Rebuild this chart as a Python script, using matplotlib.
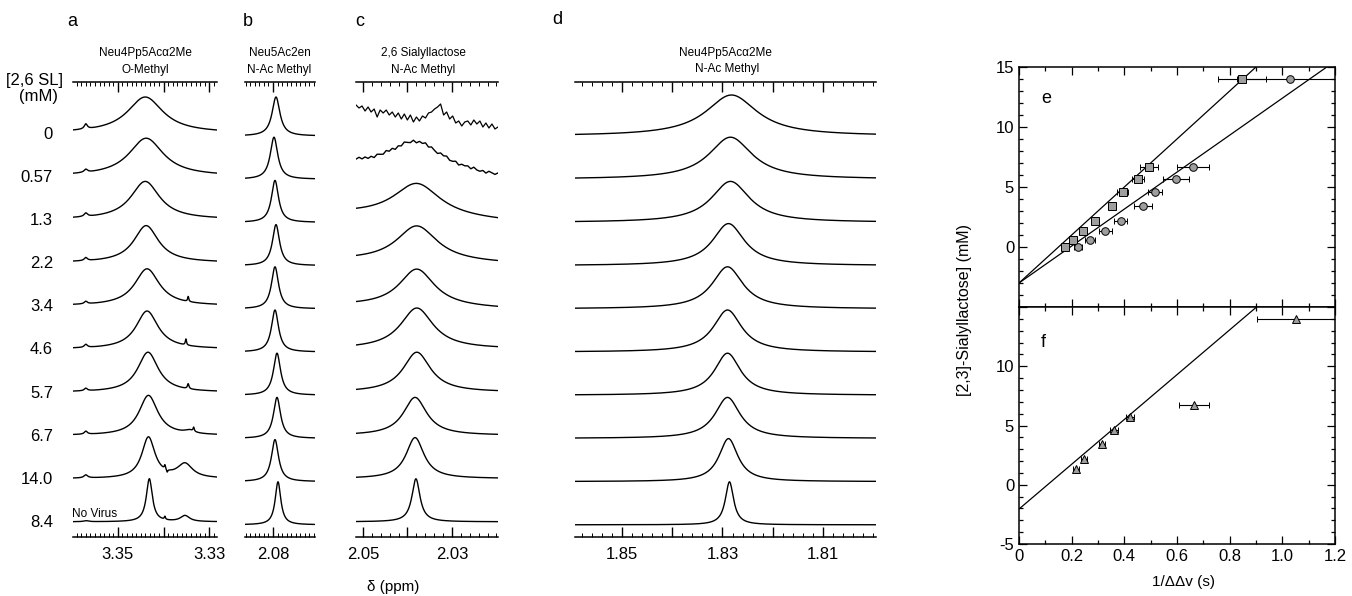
import numpy as np
import matplotlib
matplotlib.use("Agg")
import matplotlib.pyplot as plt
from matplotlib.ticker import MultipleLocator, FixedLocator, FixedFormatter

plt.rcParams['font.family'] = ['Liberation Sans', 'DejaVu Sans']

W, H = 1352, 596

# ------------------------------------------------------------------ data
conc_labels = ["0", "0.57", "1.3", "2.2", "3.4", "4.6", "5.7", "6.7", "14.0", "8.4"]

# panel a: Neu4Pp5Aca2Me O-methyl (ppm, ppm, intensity)
a_center = [3.3440, 3.3438, 3.3440, 3.3438, 3.3436, 3.3436, 3.3434, 3.3433, 3.3433, 3.3431]
a_fwhm = [0.0095, 0.0092, 0.0077, 0.0066, 0.0066, 0.0059, 0.0055, 0.0050, 0.0035, 0.0016]
a_height = [36, 38, 38, 37, 37, 38, 40, 40, 41, 43]
a_extra = [  # (row, centre, fwhm, height)
    (0, 3.3570, 0.0008, 5), (1, 3.3570, 0.0009, 3), (2, 3.3570, 0.0009, 3.5),
    (3, 3.3570, 0.0008, 3), (4, 3.3570, 0.0008, 2.5), (5, 3.3570, 0.0008, 3),
    (6, 3.3570, 0.0008, 2.5), (7, 3.3570, 0.0008, 3), (8, 3.3570, 0.0010, 3),
    (9, 3.3570, 0.0012, 1),
    (4, 3.3346, 0.0003, 5), (5, 3.3351, 0.0003, 6), (6, 3.3346, 0.0004, 5),
    (7, 3.3343, 0.0025, 3), (7, 3.3334, 0.0003, 4),
    (8, 3.3353, 0.0040, 14), (8, 3.3397, 0.0003, 4), (8, 3.3392, 0.0003, -3),
    (9, 3.3353, 0.0024, 6), (9, 3.3397, 0.0003, 3),
]

# panel b: Neu5Ac2en N-Ac methyl
b_center = [2.07934, 2.07978, 2.07956, 2.07934, 2.07956, 2.07956, 2.07912, 2.07912, 2.07956, 2.07890]
b_fwhm = [0.0021, 0.0020, 0.0019, 0.0019, 0.0019, 0.0019, 0.0019, 0.0019, 0.0019, 0.0015]
b_height = [39, 42, 42, 41, 42, 42, 42, 41, 42, 43]

# panel c: 2,6 sialyllactose N-Ac methyl
c_center = [2.0381, 2.0381, 2.0379, 2.0379, 2.0379, 2.0379, 2.0379, 2.0383, 2.0383, 2.0381]
c_fwhm = [0.030, 0.0150, 0.0128, 0.0112, 0.0097, 0.0090, 0.0075, 0.0064, 0.0049, 0.0022]
c_height = [0, 30, 34, 36, 38, 41, 40, 38, 41, 43]
c_tilt = [0, 12, 7, 3, 3, 0, 0, 0, 0, 0]
c_offset = [0, -10, -5, -2, 0, 0, 0, 0, 0, 0]
# first (noisy) trace of panel c, read point by point (page-pixel height)
c_row0_trace = [105, 108, 106, 111, 107, 112, 109, 117, 110, 113, 110, 115,
                112, 117, 113, 119, 114, 120, 115, 122, 117, 121, 116, 118,
                113, 112, 109, 107, 104, 115, 112, 119, 116, 123, 121, 126,
                122, 121, 125, 120, 124, 121, 127, 123, 128, 124, 129, 127]
c_row1_ripple = [0, -1.5, 0.5, -1, 1, -0.5, 1.5, -1, 0, 1, -1.5, 0.5,
                 -1, 1.5, -0.5, 1, -1.5, 0, 1, -1, 1.5, -0.5, 0.5, -1.5,
                 1, -1, 0.5, 1.5, -1, 0, -1.5, 1, 0.5, -1, 1.5, -0.5,
                 0, -1, 1, -1.5, 0.5, 1, -0.5, 1.5, -1, 0, 1, -1]

# panel d: Neu4Pp5Aca2Me N-Ac methyl
d_center = [1.82821, 1.82841, 1.82841, 1.82881, 1.82900, 1.82900, 1.82900, 1.82900, 1.82881, 1.82861]
d_fwhm = [0.0125, 0.0105, 0.0093, 0.0078, 0.0075, 0.0069, 0.0063, 0.0061, 0.0046, 0.0020]
d_height = [41, 42, 41, 42, 42, 42, 42, 41, 43, 43]

# panel e/f: [2,3]-sialyllactose vs 1/ddv
e_conc = [0, 0.57, 1.3, 2.2, 3.4, 4.6, 5.7, 6.7, 14.0]
e_sq_x = [0.175, 0.205, 0.244, 0.289, 0.353, 0.394, 0.452, 0.494, 0.847]
e_sq_err = [0.01, 0.01, 0.01, 0.012, 0.012, 0.02, 0.022, 0.033, 0.09]
e_ci_x = [0.224, 0.270, 0.327, 0.386, 0.470, 0.516, 0.596, 0.661, 1.029]
e_ci_err = [0.015, 0.02, 0.025, 0.025, 0.035, 0.027, 0.05, 0.06, 0.2]
e_sq_fit = (-3.0, 20.0)   # intercept, slope
e_ci_fit = (-3.0, 15.4)

f_conc = [1.3, 2.2, 3.4, 4.6, 5.7, 6.7, 14.0]
f_tr_x = [0.216, 0.247, 0.315, 0.361, 0.421, 0.665, 1.052]
f_tr_err = [0.01, 0.01, 0.012, 0.015, 0.015, 0.058, 0.15]
f_fit = (-2.05, 18.9)

# ------------------------------------------------------------------ figure
fig = plt.figure(figsize=(W / 100, H / 100), dpi=100)


def rect(x0, y0, x1, y1):
    return [x0 / W, 1 - y1 / H, (x1 - x0) / W, (y1 - y0) / H]


def ftext(x, y, s, **kw):
    fig.text(x / W, 1 - y / H, s, **kw)


def lor(x, c, w):
    return 1.0 / (1.0 + ((x - c) / (w / 2.0)) ** 2)


TOP, BOT = 82, 537
ROW0, DROW = 133, 43.2

panels = [
    dict(x0=73, x1=217, xlim=(3.3598, 3.3283), shift=0,
         c=a_center, w=a_fwhm, h=a_height, extra=a_extra,
         major=[3.35, 3.34, 3.33], mlab=['3.35', '', '3.33'], minor=0.001),
    dict(x0=245, x1=315, xlim=(2.08615, 2.07077), shift=3,
         c=b_center, w=b_fwhm, h=b_height, extra=[],
         major=[2.08], mlab=['2.08'], minor=0.001),
    dict(x0=356, x1=498, xlim=(2.05157, 2.01966), shift=0,
         c=c_center, w=c_fwhm, h=c_height, extra=[],
         major=[2.05, 2.04, 2.03], mlab=['2.05', '', '2.03'], minor=0.002),
    dict(x0=575, x1=876, xlim=(1.85935, 1.79945), shift=3,
         c=d_center, w=d_fwhm, h=d_height, extra=[],
         major=[1.85, 1.84, 1.83, 1.82, 1.81], mlab=['1.85', '', '1.83', '', '1.81'],
         minor=0.002),
]

for pi, p in enumerate(panels):
    ax = fig.add_axes(rect(p['x0'], TOP, p['x1'], BOT))
    xl, xr = p['xlim']
    ax.set_xlim(xl, xr)
    ax.set_ylim(BOT, TOP)
    for i in range(len(conc_labels)):
        base = ROW0 + DROW * i + p['shift']
        if pi == 2 and i == 0:
            xs = np.linspace(xl, xr, len(c_row0_trace))
            ax.plot(xs, c_row0_trace, color='k', lw=0.9)
            continue
        if pi == 2 and i == 1:
            xs = np.linspace(xl, xr, len(c_row1_ripple))
        else:
            xs = np.linspace(xl, xr, 700)
        frac = (xs - xl) / (xr - xl)
        y = base + frac * 0
        if pi == 2:
            y = y + c_offset[i] + c_tilt[i] * frac
            if i == 1:
                y = y + np.array(c_row1_ripple)
        y = y - p['h'][i] * lor(xs, p['c'][i], p['w'][i])
        for (r, cc, ww, hh) in p['extra']:
            if r == i:
                y = y - hh * lor(xs, cc, ww)
        ax.plot(xs, y, color='k', lw=1.0)
    for s in ['left', 'right']:
        ax.spines[s].set_visible(False)
    for s in ['top', 'bottom']:
        ax.spines[s].set_linewidth(1.1)
    ax.xaxis.set_major_locator(FixedLocator(p['major']))
    ax.xaxis.set_major_formatter(FixedFormatter(p['mlab']))
    ax.xaxis.set_minor_locator(MultipleLocator(p['minor']))
    ax.tick_params(axis='x', which='both', direction='in', top=True, bottom=True,
                   labeltop=False, labelsize=12, pad=7)
    ax.tick_params(axis='x', which='major', length=7, width=1.0)
    ax.tick_params(axis='x', which='minor', length=3, width=0.7)
    ax.set_yticks([])

# row labels
for i, lab in enumerate(conc_labels):
    ftext(53, ROW0 + DROW * i + 1, lab, ha='right', va='center', fontsize=12)
ftext(6, 81, "[2,6 SL]", ha='left', va='center', fontsize=12)
ftext(38, 96, "(mM)", ha='center', va='center', fontsize=12)
ftext(72, 514, "No Virus", ha='left', va='center', fontsize=8.5)

# panel titles
ftext(72, 21, "a", ha='center', va='center', fontsize=13)
ftext(248, 21, "b", ha='center', va='center', fontsize=13)
ftext(360, 21, "c", ha='center', va='center', fontsize=13)
ftext(557, 20, "d", ha='center', va='center', fontsize=13)
ftext(145, 53, "Neu4Pp5Acα2Me", ha='center', va='center', fontsize=8.5)
ftext(145, 70, "O-Methyl", ha='center', va='center', fontsize=8.5)
ftext(280, 53, "Neu5Ac2en", ha='center', va='center', fontsize=8.5)
ftext(279, 70, "N-Ac Methyl", ha='center', va='center', fontsize=8.5)
ftext(423, 53, "2,6 Sialyllactose", ha='center', va='center', fontsize=8.5)
ftext(423, 70, "N-Ac Methyl", ha='center', va='center', fontsize=8.5)
ftext(725, 53, "Neu4Pp5Acα2Me", ha='center', va='center', fontsize=8.5)
ftext(727, 69, "N-Ac Methyl", ha='center', va='center', fontsize=8.5)
ftext(393, 587, "δ (ppm)", ha='center', va='center', fontsize=11)

# ------------------------------------------------------------------ e / f
axe = fig.add_axes(rect(1019, 67, 1335, 307))
axf = fig.add_axes(rect(1019, 307, 1335, 544))

mk = dict(mfc='0.62', mec='k', ms=5.5, mew=0.7, ecolor='k', elinewidth=0.8,
          capsize=2.5, capthick=0.8, lw=0)
axe.errorbar(e_sq_x, e_conc, xerr=e_sq_err, fmt='s', **mk)
axe.errorbar(e_ci_x, e_conc, xerr=e_ci_err, fmt='o', **mk)
axf.errorbar(f_tr_x, f_conc, xerr=f_tr_err, fmt='^', **mk)
xx = np.array([0.0, 1.2])
for a_, (b0, m) in [(axe, e_sq_fit), (axe, e_ci_fit), (axf, f_fit)]:
    a_.plot(xx, b0 + m * xx, color='k', lw=0.9)

for a_ in (axe, axf):
    a_.set_xlim(0, 1.2)
    a_.set_ylim(-5, 15)
    a_.xaxis.set_major_locator(MultipleLocator(0.2))
    a_.xaxis.set_minor_locator(MultipleLocator(0.1))
    a_.yaxis.set_minor_locator(MultipleLocator(1))
    a_.tick_params(which='both', direction='in', top=True, right=True,
                   labelsize=12, width=0.9)
    a_.tick_params(which='major', length=6)
    a_.tick_params(which='minor', length=3)
    for s in a_.spines.values():
        s.set_linewidth(1.1)

axe.set_yticks([-5, 0, 5, 10, 15])
axe.set_yticklabels(['', '0', '5', '10', '15'])
axe.tick_params(labelbottom=False)
axf.set_yticks([-5, 0, 5, 10, 15])
axf.set_yticklabels(['-5', '0', '5', '10', ''])
axf.set_xticks([0, 0.2, 0.4, 0.6, 0.8, 1.0, 1.2])
axf.set_xticklabels(['0', '0.2', '0.4', '0.6', '0.8', '1.0', '1.2'])

axe.text(0.085, 0.87, "e", transform=axe.transAxes, fontsize=13, ha='center', va='center')
axf.text(0.078, 0.85, "f", transform=axf.transAxes, fontsize=13, ha='center', va='center')
ftext(1183, 582, "1/ΔΔv (s)", ha='center', va='center', fontsize=11)
ftext(964, 310, "[2,3]-Sialyllactose] (mM)", ha='center', va='center',
      rotation=90, fontsize=11.5)

fig.savefig("out.png", dpi=100)
